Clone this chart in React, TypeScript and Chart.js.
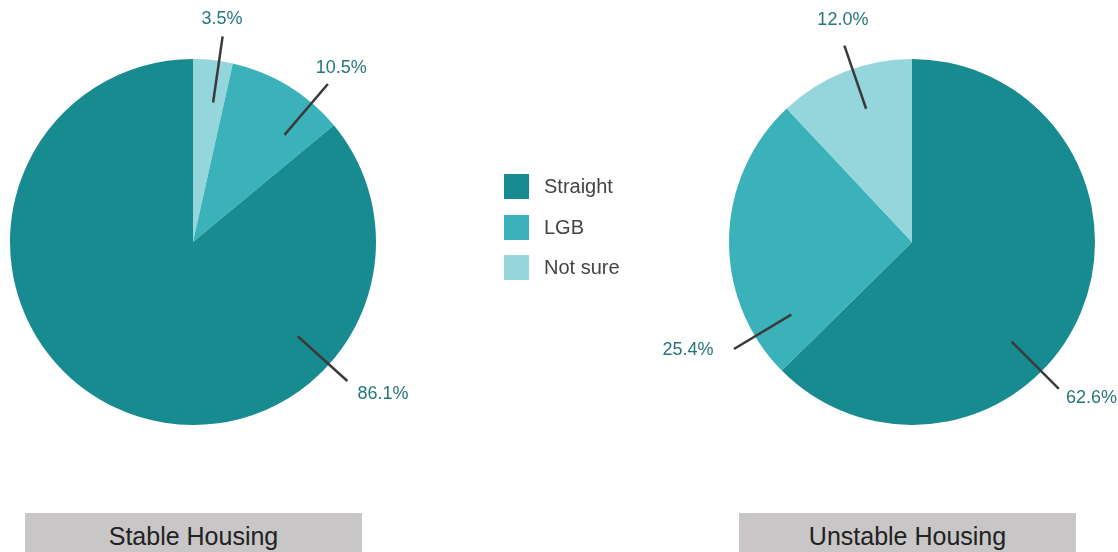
import React, { useEffect, useRef } from "react";
import { Chart, registerables } from "chart.js";

Chart.register(...registerables);

const CATEGORIES = ["Straight", "LGB", "Not sure"];
const STABLE = [86.1, 10.5, 3.5];
const UNSTABLE = [62.6, 25.4, 12.0];
const COLORS = ["#178b90", "#3bb2ba", "#94d6dc"];
const TITLES = ["Stable Housing", "Unstable Housing"];

// leader-line angle (deg, clockwise from top) and label angle / radius factor, per category
const STABLE_LABEL_ANGLES = [132, 40.5, 8.2];
const STABLE_TEXT_ANGLES = [128.7, 40.4, 7.4];
const STABLE_TEXT_R = [1.33, 1.25, 1.23];
const UNSTABLE_LABEL_ANGLES = [135, 239, 341];
const UNSTABLE_TEXT_ANGLES = [131, 244.2, 342.7];
const UNSTABLE_TEXT_R = [1.3, 1.36, 1.27];

const FONT = "'Liberation Sans', Arial, sans-serif";

function makeLabelPlugin(lineAngles: number[], textAngles: number[], textR: number[], order: number[]) {
  return {
    id: "leaderLabels",
    afterDatasetsDraw(chart: any) {
      const ctx = chart.ctx;
      const meta = chart.getDatasetMeta(0);
      const data = chart.data.datasets[0].data as number[];
      meta.data.forEach((arc: any, i: number) => {
        const cat = order[i];
        const { x, y, outerRadius: R } = arc.getProps(["x", "y", "outerRadius"], true);
        const a = (lineAngles[cat] * Math.PI) / 180;
        const r1 = R * 0.77;
        const r2 = R * 1.135;
        ctx.save();
        ctx.strokeStyle = "#3a3a3a";
        ctx.lineWidth = 2.5;
        ctx.beginPath();
        ctx.moveTo(x + r1 * Math.sin(a), y - r1 * Math.cos(a));
        ctx.lineTo(x + r2 * Math.sin(a), y - r2 * Math.cos(a));
        ctx.stroke();
        const ta = (textAngles[cat] * Math.PI) / 180;
        const tr = R * textR[cat];
        ctx.fillStyle = "#25757a";
        ctx.font = `18px ${FONT}`;
        ctx.textAlign = "center";
        ctx.textBaseline = "middle";
        ctx.fillText(data[i].toFixed(1) + "%", x + tr * Math.sin(ta), y - tr * Math.cos(ta));
        ctx.restore();
      });
    },
  };
}

function PieCanvas(props: {
  values: number[];
  reverse: boolean;
  padding: { left: number; right: number; top: number; bottom: number };
  lineAngles: number[];
  textAngles: number[];
  textR: number[];
  left: number;
}) {
  const ref = useRef<HTMLCanvasElement>(null);
  useEffect(() => {
    const idx = CATEGORIES.map((_, i) => i);
    const order = props.reverse ? idx.slice().reverse() : idx;
    const chart = new Chart(ref.current!, {
      type: "pie",
      data: {
        labels: order.map((i) => CATEGORIES[i]),
        datasets: [
          {
            data: order.map((i) => props.values[i]),
            backgroundColor: order.map((i) => COLORS[i]),
            borderWidth: 0,
            hoverOffset: 0,
            offset: 0,
          } as any,
        ],
      },
      options: {
        responsive: false,
        animation: false,
        devicePixelRatio: 1,
        layout: { padding: props.padding },
        plugins: { legend: { display: false }, tooltip: { enabled: false } },
        events: [],
      },
      plugins: [makeLabelPlugin(props.lineAngles, props.textAngles, props.textR, order)],
    });
    return () => chart.destroy();
  }, []);
  return (
    <canvas
      ref={ref}
      width={559}
      height={552}
      style={{ position: "absolute", left: props.left, top: 0, width: 559, height: 552 }}
    />
  );
}

export default function App() {
  const legendTops = [174, 214.5, 255];
  return (
    <div
      style={{
        position: "fixed",
        left: 0,
        top: 0,
        width: 1118,
        height: 552,
        background: "#ffffff",
        overflow: "hidden",
        fontFamily: FONT,
      }}
    >
      <PieCanvas
        values={STABLE}
        reverse={true}
        padding={{ left: 10, right: 183, top: 59, bottom: 127 }}
        lineAngles={STABLE_LABEL_ANGLES}
        textAngles={STABLE_TEXT_ANGLES}
        textR={STABLE_TEXT_R}
        left={0}
      />
      <PieCanvas
        values={UNSTABLE}
        reverse={false}
        padding={{ left: 170, right: 23, top: 59, bottom: 127 }}
        lineAngles={UNSTABLE_LABEL_ANGLES}
        textAngles={UNSTABLE_TEXT_ANGLES}
        textR={UNSTABLE_TEXT_R}
        left={559}
      />
      {CATEGORIES.map((c, i) => (
        <div
          key={c}
          style={{
            position: "absolute",
            left: 504,
            top: legendTops[i],
            height: 25,
            display: "flex",
            alignItems: "center",
          }}
        >
          <div style={{ width: 25, height: 25, background: COLORS[i] }} />
          <div style={{ marginLeft: 15, fontSize: 20, color: "#444444", whiteSpace: "nowrap" }}>{c}</div>
        </div>
      ))}
      {TITLES.map((t, i) => (
        <div
          key={t}
          style={{
            position: "absolute",
            left: i === 0 ? 25 : 739,
            top: 513,
            width: 337,
            height: 39,
            background: "#c8c6c6",
            color: "#222222",
            fontSize: 25,
            lineHeight: "46px",
            textAlign: "center",
            overflow: "hidden",
          }}
        >
          {t}
        </div>
      ))}
    </div>
  );
}
